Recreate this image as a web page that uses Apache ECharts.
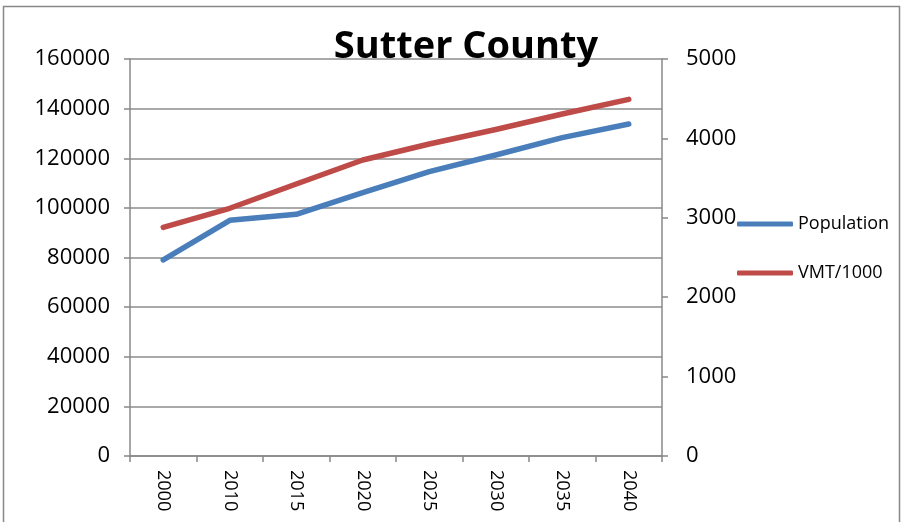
<!DOCTYPE html>
<html>
<head>
<meta charset="utf-8">
<script src="https://cdn.jsdelivr.net/npm/echarts@6/dist/echarts.min.js"></script>
<style>
  html, body { margin: 0; padding: 0; background: #fff; }
  #chart { width: 904px; height: 522px; }
</style>
</head>
<body>
<div id="chart"></div>
<script>
const years = ['2000', '2010', '2015', '2020', '2025', '2030', '2035', '2040']
const population = [79000, 95000, 97400, 106100, 114600, 121300, 128300, 133800]
const vmt = [2880, 3120, 3426, 3728, 3930, 4112, 4307, 4492]

const font = '"Open Sans", "Liberation Sans", sans-serif'
const chart = echarts.init(document.getElementById('chart'))
const plain = v => String(v)

chart.setOption({
  animation: false,
  backgroundColor: '#fff',
  graphic: [{
    type: 'rect',
    shape: { x: 3.5, y: 6.5, width: 896, height: 530 },
    style: { fill: 'none', stroke: '#888', lineWidth: 1.5 },
    silent: true
  }],
  title: {
    text: 'Sutter County',
    left: 461,
    top: 23,
    textAlign: 'center',
    textStyle: { fontFamily: font, fontWeight: 'bold', fontSize: 38, color: '#000' }
  },
  legend: {
    orient: 'vertical',
    left: 732,
    top: 210,
    itemWidth: 56,
    itemHeight: 5,
    itemGap: 31,
    icon: 'roundRect',
    textStyle: { fontFamily: font, fontSize: 18, color: '#000' },
    data: ['Population', 'VMT/1000']
  },
  grid: { left: 130, right: 242, top: 59, bottom: 66 },
  xAxis: {
    type: 'category',
    data: years,
    boundaryGap: true,
    axisLine: { lineStyle: { color: '#888', width: 1.5 } },
    axisTick: { show: true, length: 6, lineStyle: { color: '#888', width: 1.5 } },
    axisLabel: { rotate: -90, fontFamily: font, fontSize: 18, color: '#000', margin: 14 }
  },
  yAxis: [{
    type: 'value',
    min: 0,
    max: 160000,
    interval: 20000,
    axisLine: { show: true, lineStyle: { color: '#888', width: 1.5 } },
    axisTick: { show: true, length: 6, lineStyle: { color: '#888', width: 1.5 } },
    axisLabel: { formatter: plain, fontFamily: font, fontSize: 22, color: '#000', margin: 20 },
    splitLine: { lineStyle: { color: '#8c8c8c', width: 1.5 } }
  }, {
    type: 'value',
    min: 0,
    max: 5000,
    interval: 1000,
    position: 'right',
    axisLine: { show: true, lineStyle: { color: '#888', width: 1.5 } },
    axisTick: { show: true, length: 6, lineStyle: { color: '#888', width: 1.5 } },
    axisLabel: { formatter: plain, fontFamily: font, fontSize: 22, color: '#000', margin: 24 },
    splitLine: { show: false }
  }],
  series: [{
    name: 'Population',
    type: 'line',
    yAxisIndex: 0,
    data: population,
    symbol: 'none',
    color: '#4a7ebb',
    lineStyle: { color: '#4a7ebb', width: 5.5, cap: 'round', join: 'round' }
  }, {
    name: 'VMT/1000',
    type: 'line',
    yAxisIndex: 1,
    data: vmt,
    symbol: 'none',
    color: '#be4b48',
    lineStyle: { color: '#be4b48', width: 5.5, cap: 'round', join: 'round' }
  }]
})
</script>
</body>
</html>
